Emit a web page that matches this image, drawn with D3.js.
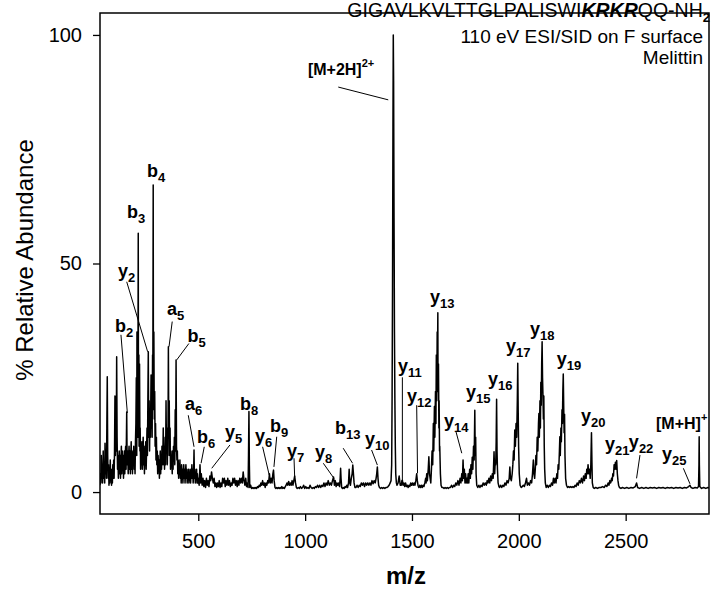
<!DOCTYPE html>
<html>
<head>
<meta charset="utf-8">
<title>Melittin ESI/SID spectrum</title>
<script src="https://cdn.jsdelivr.net/npm/d3@7"></script>
<style>
 body { margin: 0; background: #fff; }
 text { font-family: "Liberation Sans", Arial, sans-serif; fill: #000; }
 .ion { font-weight: bold; font-size: 18px; }
</style>
</head>
<body>
<script>

// spectrum trace: [m/z, % relative abundance]
var spectrum = [
 [40,1.5],[42,4],[44,2],[46,8],[48,3],[50,6],[52,2],[55,9],[57,3],[60,6],[62,2],[63.5,10.7],[66,4],[68,9],[70,3],[72,14],[74,25.2],[76,8],[78,3],
 [80,6],[82,1.5],[84,5],[86,2],[88,7],[90,3],[92,4],[94,1.5],[96,5],[98,2],[100,6],[102,3],[104,7],[106,3],[108,9],[110,21],[112,8],[114,14],
 [116,9],[118,29.6],[120,12],[122,5],[124,8],[126,3],[128,7],[130,9],[132,4],[134,8],[136,3],[138,7],[140,10],[142,4],[144,9],[146,5],[148,8],
 [150,3],[152,7],[154,9],[156,4],[158,8],[160,10],[162,5],[165,17.5],[167,6],[170,9],[172,4],[174,8],[176,10],[178,5],[180,9],[182,4],[184,8],
 [186,11],[188,5],[190,8],[192,4],[194,9],[196,6],[198,10],[200,5],[202,9],[204,4],[206,11],[208,15],[210,25],[212,8],[213,35],[215,14],
 [216,33],[217,12],[219,56.6],[220,18],[222,30],[223,10],[225,28],[227,9],[228,14],[230,5],[232,9],[234,6],[236,11],[238,5],[240,8],[242,12],
 [244,6],[246,9],[248,4],[250,10],[252,6],[254,11],[256,5],[258,9],[260,14],[262,8],[264,20],[266,30.7],[268,12],[270,20],[272,9],[274,18],
 [276,12],[279,25.6],[280,14],[282,22],[284,12],[286,30],[287,18],[289,67.2],[290,20],[292,35],[294,16],[296,22],[298,10],[300,15],[302,7],
 [304,12],[306,6],[308,9],[310,4],[312,8],[314,5],[316,7],[318,3],[320,6],[322,9],[324,4],[326,7],[328,5],[330,10],[332,6],[334,8],[336,14],
 [338,6],[340,10],[342,5],[345,12],[347,6],[349,20],[351,9],[353,14],[355,6],[357,12],[358,8],[360,31.8],[362,12],[364,20],[366,8],[368,14],
 [370,5],[372,9],[374,6],[376,8],[378,4],[380,9],[382,5],[384,10],[386,7],[388,12],[390,6],[392,18],[394,9],[396,28.9],[398,10],[400,7],
 [402,9],[404,4],[406,7],[408,3],[410,6],[412,4],[414,7],[416,3],[418,5],[420,2],[422,6],[424,3],[426,5],[428,2],[430,4],[432,6],[434,3],
 [436,5],[438,2],[440,4],[442,6],[444,3],[446,5],[448,2],[450,4],[452,3],[454,5],[456,2],[458,4],[460,3],[462,5],[464,2],[466,4],[468,3],
 [470,6],[472,3],[474,5],[476,2],[478,4],[480,9.2],[482,3],[484,5],[486,2],[488,4],[490,3],[492,5],[494,2],[496,4],[498,2],[500,3],
 [504,1.5],[508,6],[511,2],[514,4],[518,1.5],[522,3],[526,1.2],[530,2.5],[534,1],[538,3],[542,1.5],[546,2.5],[550,1.2],[554,3.5],[558,2.5],
 [562,4.4],[566,3],[570,2],[574,3],[578,1.2],[582,2],[586,1],[590,2],[594,1.2],[598,2.5],[602,1],[606,2],[610,1.2],[614,3],[618,2],[622,3],
 [626,1.2],[630,2.5],[634,1.5],[638,3],[642,1.5],[646,2.5],[650,1.2],[654,2],[658,1.5],[662,3],[666,2],[670,3],[674,1.5],[678,2.5],[682,1.2],
 [686,2.5],[690,1.5],[694,3],[698,2],[702,3],[706,2],[710,4.4],[714,2.5],[718,1.5],[722,3],[726,1.2],[730,2],[733,1],[735,8],[737,17.6],
 [739,6],[741,1],[745,1.5],[749,0.8],[753,1],[757,0.8],[761,1],[765,0.8],[769,1],[773,0.8],[777,1.2],[781,1],[785,1.5],[789,1.2],[793,2],
 [797,1.5],[801,2.5],[805,1.5],[809,2],[813,1],[817,2],[821,1.5],[825,2.5],[829,2],[833,4],[837,2],[841,3],[845,2],[849,4],[852,4.8],
 [855,2.5],[859,1],[863,0.8],[867,1],[871,0.8],[875,1],[879,0.8],[883,1],[887,0.8],[891,1.2],[895,0.8],[899,1],[903,0.8],[907,1.2],[911,1.5],
 [915,2],[919,1.5],[923,2.3],[927,1.5],[931,2],[935,1.5],[939,2.5],[943,1.5],[947,2.5],[951,3.5],[955,2],[959,1],[963,0.8],[968,1],[973,0.8],
 [978,1.2],[983,0.8],[988,1],[993,1.5],[998,0.8],[1003,1.2],[1008,0.8],[1013,1],[1018,0.8],[1023,1.5],[1028,1],[1033,0.8],[1038,1],[1043,0.8],
 [1048,1.2],[1053,1],[1058,1.5],[1063,1],[1068,1.5],[1073,1],[1078,1.5],[1083,1.2],[1088,2],[1093,1.2],[1098,2],[1103,1.5],[1108,2.5],
 [1113,1.5],[1118,2],[1123,1.5],[1128,2.5],[1133,3.3],[1137,1.5],[1141,2.5],[1145,1.2],[1149,2],[1153,1.5],[1157,2],[1161,1.2],[1164,3],
 [1166,5.2],[1168,3],[1171,1],[1175,0.8],[1179,1],[1183,0.8],[1187,1.2],[1191,1],[1195,1.5],[1199,1],[1203,2],[1206,5],[1209,2],[1212,1.5],
 [1216,3],[1220,4],[1223,5.9],[1226,4],[1229,2],[1233,1],[1238,1],[1243,1.5],[1248,1],[1253,1.5],[1258,1.2],[1263,2],[1268,1.5],[1273,2],
 [1278,1.2],[1283,2],[1288,1.5],[1293,2],[1298,1.5],[1303,2],[1308,1.5],[1313,2.5],[1318,1.8],[1323,2.5],[1328,2],[1332,3],[1335,4],
 [1338,5.5],[1341,3],[1344,1.5],[1348,1],[1353,0.8],[1358,1],[1363,0.8],[1368,1],[1373,0.8],[1378,1],[1383,1],[1388,1.2],[1393,1.5],
 [1398,2],[1402,2.5],[1405,6],[1407,21],[1409,45],[1411,80],[1412.5,100],[1414,90],[1416,60],[1418,35],[1420,20],[1422,10],[1424,4],
 [1427,2],[1430,1.5],[1435,2],[1440,3.5],[1445,1.5],[1450,1.5],[1453,2.5],[1455,2.6],[1458,1.5],[1462,2],[1466,1.2],[1470,2],[1474,1.2],
 [1478,1.5],[1482,1],[1486,1.5],[1490,1.2],[1494,2],[1498,1.5],[1502,2],[1506,1.5],[1510,2],[1514,1.5],[1518,2.5],[1522,4],[1525,2.5],
 [1528,1.5],[1532,1],[1536,1.5],[1540,1],[1544,1.5],[1548,1],[1552,1.5],[1556,1.2],[1560,2],[1564,3],[1566,2],[1569,4],[1572,2.5],
 [1576,5],[1579,7.7],[1582,4],[1585,3],[1588,2],[1591,5],[1594,9],[1597,6],[1600,15],[1602,9],[1605,18.7],[1607,12],[1610,22],[1612,15],
 [1614,30],[1616,20],[1618,35],[1619,26],[1621,39.2],[1622,22],[1624,28],[1626,14],[1627,20],[1629,9],[1630,10],[1633,4],[1636,1.5],
 [1640,1],[1645,1],[1650,0.8],[1655,1],[1660,0.8],[1665,1],[1670,0.8],[1675,1],[1680,1],[1685,1.5],[1690,1],[1695,1.5],[1700,1.2],
 [1705,2],[1710,1.5],[1715,2.5],[1720,1.5],[1725,3],[1729,2],[1733,4],[1736,2.5],[1739,7],[1742,3],[1745,5],[1748,2],[1751,4],[1754,2],
 [1757,3],[1760,2],[1763,4],[1766,2],[1770,5],[1773,3],[1776,6],[1779,4],[1782,7.6],[1785,5],[1788,10],[1791,7],[1794,17.9],[1796,8],
 [1798,12],[1800,4],[1803,1.5],[1808,1],[1813,1.5],[1818,1],[1823,1.5],[1828,1.2],[1833,2],[1838,1.5],[1843,2],[1848,1.5],[1852,2.5],
 [1856,2],[1860,3],[1864,2],[1868,3.5],[1872,2.5],[1876,4],[1880,3],[1884,8.8],[1887,4],[1890,7],[1892,6],[1894,11],[1896,20.3],[1898,9],
 [1900,5],[1903,2],[1907,1.2],[1910,1],[1915,1.5],[1920,1],[1925,1.5],[1930,1.2],[1935,2],[1940,1.5],[1945,2.5],[1950,2],[1955,3],
 [1958,5.5],[1961,3],[1965,2.5],[1969,4],[1972,6],[1975,9],[1978,7],[1981,13.6],[1984,10],[1987,15],[1990,12],[1993,20],[1995,28.2],
 [1997,18],[1999,10],[2002,4],[2006,1.5],[2011,1],[2016,1.2],[2021,1.5],[2026,1.2],[2031,2],[2036,3],[2040,1.5],[2045,2],[2050,1.5],
 [2055,2.5],[2060,2],[2064,4],[2068,7],[2071,4],[2074,3],[2077,5],[2080,8],[2083,6],[2086,12],[2089,9],[2092,15],[2094,17.2],[2096,12],
 [2099,20],[2101,14],[2103,24],[2105,19],[2107,28],[2109,32.9],[2111,25],[2113,21],[2115,16],[2117,21],[2119,10],[2121,5],[2124,2],
 [2128,1],[2133,1.5],[2138,1],[2143,1.5],[2148,1.2],[2153,2],[2158,1.5],[2162,3],[2166,2],[2170,3],[2174,2],[2178,4],[2181,3],[2184,6],
 [2187,5],[2190,9],[2192,12.1],[2194,8],[2197,14],[2199,11],[2202,18],[2204,15],[2206,22],[2208,25.8],[2210,19],[2212,13],[2214,17],
 [2216,8],[2219,3],[2223,1.5],[2228,1],[2233,1.2],[2238,1],[2243,1.2],[2248,1],[2253,1.2],[2258,1],[2263,1.5],[2268,1.2],[2273,2],
 [2278,1.5],[2283,2.5],[2288,2],[2293,3],[2298,2],[2303,3.5],[2307,2.5],[2311,4],[2315,3],[2318,5],[2321,4],[2324,6],[2327,4],[2331,5],
 [2334,3],[2337,6],[2340,13],[2342,7],[2344,2],[2348,1],[2353,0.8],[2360,1],[2368,0.8],[2376,1],[2384,1],[2392,1.2],[2400,1],[2406,1.5],
 [2412,1.2],[2418,2],[2422,1.5],[2426,2.5],[2430,2],[2434,3],[2437,2.5],[2440,4],[2443,3.5],[2446,6],[2449,5],[2452,6.5],[2455,5],
 [2458,6.9],[2461,4],[2464,2.5],[2467,1.5],[2471,1],[2478,0.8],[2485,1],[2495,0.8],[2505,1],[2515,0.8],[2525,1],[2535,0.9],[2545,1.2],
 [2551,2],[2556,1],[2565,0.8],[2575,1],[2585,0.8],[2595,1],[2605,0.8],[2615,1],[2625,0.9],[2635,1],[2645,0.8],[2655,1],[2665,0.9],
 [2675,1],[2685,0.8],[2695,1],[2705,0.9],[2715,1],[2725,0.8],[2735,1],[2745,0.9],[2755,1],[2765,0.8],[2775,1],[2785,0.9],[2795,1.2],
 [2801,1.5],[2806,1],[2815,0.8],[2825,1],[2835,0.9],[2841,1.2],[2843,6],[2844,12.1],[2845,6],[2847,1.2],[2855,0.8],[2865,1],[2875,0.8],
 [2885,1],[2890,0.9]
];

var xTicks = [500, 1000, 1500, 2000, 2500];
var yTicks = [0, 50, 100];

// fragment ion labels: letter, subscript, label anchor (m/z, abundance)
var ions = [
 {t:"b", s:"4",  mz:260,  ab:68.9},
 {t:"b", s:"3",  mz:166,  ab:60},
 {t:"y", s:"2",  mz:124,  ab:47},
 {t:"b", s:"2",  mz:110,  ab:35},
 {t:"a", s:"5",  mz:353,  ab:38.7},
 {t:"b", s:"5",  mz:450,  ab:32.9},
 {t:"a", s:"6",  mz:438,  ab:17.9},
 {t:"b", s:"6",  mz:494,  ab:10.7},
 {t:"y", s:"5",  mz:625,  ab:11.8},
 {t:"b", s:"8",  mz:695,  ab:17.9},
 {t:"y", s:"6",  mz:765,  ab:11},
 {t:"b", s:"9",  mz:835,  ab:13.2},
 {t:"y", s:"7",  mz:915,  ab:7.7},
 {t:"y", s:"8",  mz:1046, ab:7.4},
 {t:"b", s:"13", mz:1140, ab:12.8},
 {t:"y", s:"10", mz:1280, ab:10.3},
 {t:"y", s:"11", mz:1434, ab:26.3},
 {t:"y", s:"12", mz:1477, ab:19.8},
 {t:"y", s:"13", mz:1584, ab:41.3},
 {t:"y", s:"14", mz:1650, ab:14.3},
 {t:"y", s:"15", mz:1753, ab:20.5},
 {t:"y", s:"16", mz:1856, ab:23.4},
 {t:"y", s:"17", mz:1940, ab:30.7},
 {t:"y", s:"18", mz:2052, ab:34.4},
 {t:"y", s:"19", mz:2178, ab:27.8},
 {t:"y", s:"20", mz:2291, ab:15.4},
 {t:"y", s:"21", mz:2403, ab:9.2},
 {t:"y", s:"22", mz:2515, ab:9.6},
 {t:"y", s:"25", mz:2670, ab:7}
];

// precursor labels with superscript charge
var precursors = [
 {t:"[M+2H]", sup:"2+", mz:1013, ab:91.2},
 {t:"[M+H]",  sup:"+",  mz:2642, ab:13.9}
];

// leader lines: [m/z from, ab from, m/z to, ab to]
var leaders = [
 [165,46,263,30.7],
 [138,34.4,168,17.3],
 [378,37.3,363,31.8],
 [456,32.5,399,28.9],
 [453,16.8,480,9.9],
 [528,9.9,513,6.3],
 [648,10.3,563,5.2],
 [801,9.9,832,3.7],
 [867,12.1,854,5.5],
 [948,7.4,951,3.3],
 [1085,6.3,1135,3],
 [1178,9.6,1222,6.3],
 [1311,9.2,1338,5.9],
 [1155,88.6,1389,85.8],
 [1455,25.1,1455,2.3],
 [1522,19,1526,4.1],
 [1706,13.2,1733,8.5],
 [2567,8.1,2551,3],
 [2770,5.2,2801,1.8]
];

var w = 711, h = 590;
var plotL = 100, plotR = 709, plotT = 13, plotB = 514;

var svg = d3.select("body").append("svg")
    .attr("width", w)
    .attr("height", h);

var x = d3.scaleLinear().domain([40, 2890]).range([plotL, plotR]);
var y = d3.scaleLinear().domain([-4.8, 104.8]).range([plotB, plotT]);

svg.append("clipPath").attr("id", "plot")
   .append("rect")
   .attr("x", plotL).attr("y", plotT)
   .attr("width", plotR - plotL).attr("height", plotB - plotT);

var line = d3.line()
    .x(function(d){ return x(d[0]); })
    .y(function(d){ return y(d[1]); });

svg.append("path")
   .datum(spectrum)
   .attr("clip-path", "url(#plot)")
   .attr("d", line)
   .attr("fill", "none")
   .attr("stroke", "#000")
   .attr("stroke-width", 1.5)
   .attr("stroke-linejoin", "round");

// frame
svg.append("rect")
   .attr("x", plotL).attr("y", plotT)
   .attr("width", plotR - plotL).attr("height", plotB - plotT)
   .attr("fill", "none")
   .attr("stroke", "#000")
   .attr("stroke-width", 1.5);

var xAxis = svg.append("g")
    .attr("transform", "translate(0," + plotB + ")")
    .call(d3.axisBottom(x).tickValues(xTicks).tickSize(7).tickFormat(d3.format("d")));
xAxis.select(".domain").remove();
xAxis.selectAll("line").attr("stroke", "#000").attr("stroke-width", 1.3);
xAxis.selectAll("text")
     .attr("y", 34).attr("dy", null)
     .style("font-size", "20px").attr("fill", "#000");

var yAxis = svg.append("g")
    .attr("transform", "translate(" + plotL + ",0)")
    .call(d3.axisLeft(y).tickValues(yTicks).tickSize(7).tickPadding(11));
yAxis.select(".domain").remove();
yAxis.selectAll("line").attr("stroke", "#000").attr("stroke-width", 1.3);
yAxis.selectAll("text").style("font-size", "20px").attr("fill", "#000");
xAxis.attr("font-family", null);
yAxis.attr("font-family", null);

svg.append("text")
   .attr("transform", "translate(33,260) rotate(-90)")
   .attr("text-anchor", "middle")
   .style("font-size", "24px")
   .text("% Relative Abundance");

svg.append("text")
   .attr("x", 406).attr("y", 584)
   .attr("text-anchor", "middle")
   .style("font-size", "24px")
   .style("font-weight", "bold")
   .text("m/z");

// leader lines
svg.selectAll(".leader")
   .data(leaders)
   .enter()
   .append("line")
   .attr("class", "leader")
   .attr("x1", function(d){ return x(d[0]); })
   .attr("y1", function(d){ return y(d[1]); })
   .attr("x2", function(d){ return x(d[2]); })
   .attr("y2", function(d){ return y(d[3]); })
   .attr("stroke", "#000")
   .attr("stroke-width", 1);

var ionText = svg.selectAll(".ion")
    .data(ions)
    .enter()
    .append("text")
    .attr("class", "ion")
    .attr("x", function(d){ return x(d.mz); })
    .attr("y", function(d){ return y(d.ab); });
ionText.append("tspan").text(function(d){ return d.t; });
ionText.append("tspan")
       .attr("dy", 5)
       .style("font-size", "13px")
       .text(function(d){ return d.s; });

var precText = svg.selectAll(".prec")
    .data(precursors)
    .enter()
    .append("text")
    .attr("class", "prec")
    .style("font-size", "16px")
    .style("font-weight", "bold")
    .attr("x", function(d){ return x(d.mz); })
    .attr("y", function(d){ return y(d.ab); });
precText.append("tspan").text(function(d){ return d.t; });
precText.append("tspan")
        .attr("dy", -8)
        .style("font-size", "11px")
        .text(function(d){ return d.sup; });

// header text, right aligned against the frame
var seq = svg.append("text")
    .attr("x", 710).attr("y", 17)
    .attr("text-anchor", "end")
    .style("font-size", "19.5px");
seq.append("tspan").text("GIGAVLKVLTTGLPALISWI");
seq.append("tspan").style("font-weight", "bold").style("font-style", "italic").text("KRKR");
seq.append("tspan").text("QQ-NH");
seq.append("tspan").attr("dy", 5).style("font-size", "13px").style("font-weight", "bold").text("2");

svg.append("text")
   .attr("x", 703).attr("y", 43)
   .attr("text-anchor", "end")
   .style("font-size", "19px")
   .text("110 eV ESI/SID on F surface");

svg.append("text")
   .attr("x", 703).attr("y", 64)
   .attr("text-anchor", "end")
   .style("font-size", "19px")
   .text("Melittin");

</script>
</body>
</html>
